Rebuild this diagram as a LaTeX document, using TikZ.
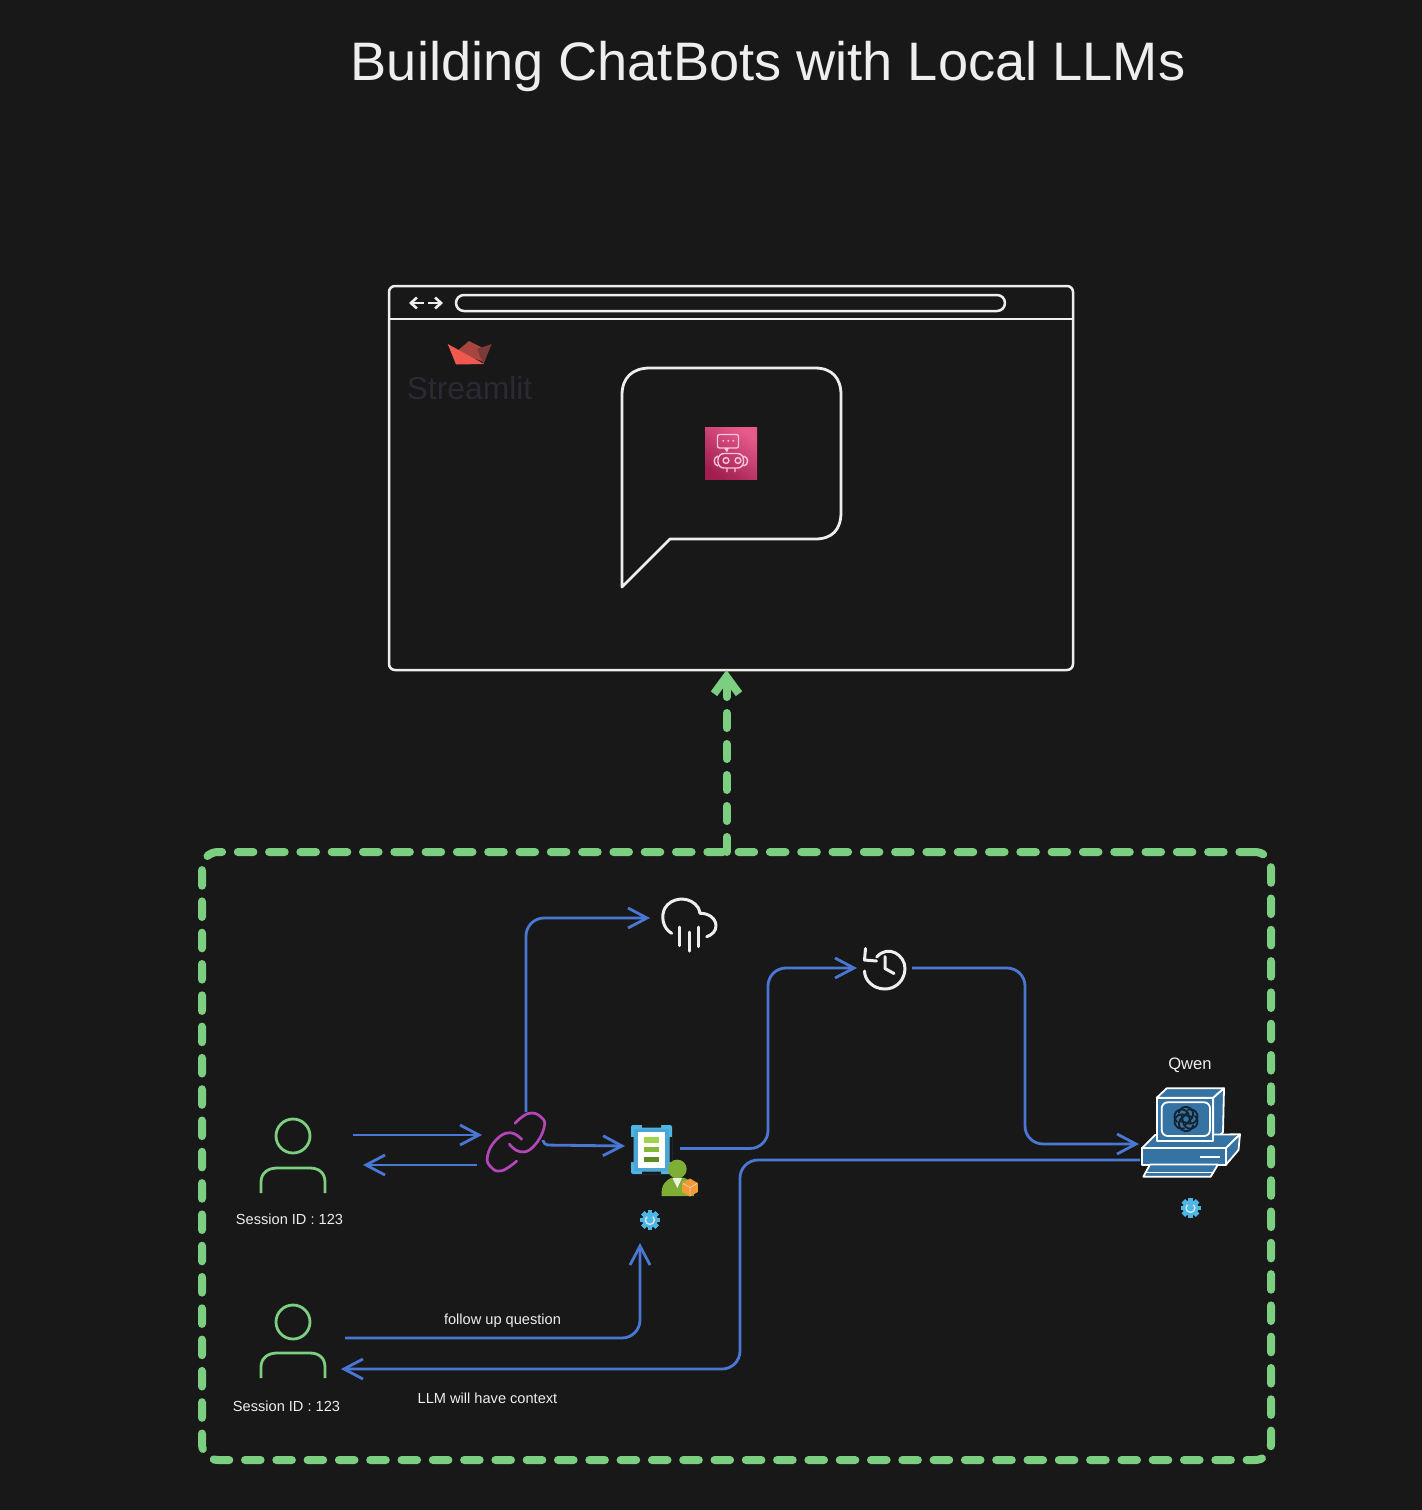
\documentclass[tikz,border=0pt]{standalone}
\usepackage{fontspec}
\setmainfont{Liberation Sans}
\usetikzlibrary{arrows.meta,shapes.geometric}
\definecolor{bg}{HTML}{181818}
\definecolor{sketch}{HTML}{EEEEEE}
\definecolor{flowblue}{HTML}{4A76D4}
\definecolor{framegreen}{HTML}{7CCF80}
\definecolor{linkpurple}{HTML}{B545B8}
\definecolor{skyb}{HTML}{4FB6E4}
\definecolor{pcblue}{HTML}{3673A5}
\definecolor{stl}{HTML}{2A2A36}
\definecolor{pinktop}{HTML}{E85A8C}
\definecolor{pinkbot}{HTML}{A11F50}
\definecolor{robotline}{HTML}{F5C6D8}
\definecolor{crownA}{HTML}{F0594E}
\definecolor{crownB}{HTML}{A8453F}
\definecolor{crownC}{HTML}{7A3B38}
\definecolor{barA}{HTML}{A0D44A}
\definecolor{barB}{HTML}{86B83A}
\definecolor{barC}{HTML}{5E8C24}
\definecolor{persongreen}{HTML}{7FAE35}
\definecolor{cubeorange}{HTML}{F09A3A}
\definecolor{docedge}{HTML}{4BA6D8}
\definecolor{logoink}{HTML}{15222E}
\tikzset{
  iconbox/.style 2 args={inner sep=0pt,outer sep=0pt,minimum width=#1*0.5pt,minimum height=#2*0.5pt},
  flow/.style={draw=flowblue,line width=1.4pt,rounded corners=9pt,-{Straight Barb[length=9.5pt,width=10pt,line width=1.4pt]}},
  sk/.style={draw=sketch,line width=1.25pt,line join=round},
  skthin/.style={draw=sketch,line width=1.5pt,line cap=round,line join=round},
  person/.style={draw=framegreen,line width=1.4pt},
  caption/.style={text=sketch,inner sep=0pt,font=\fontsize{7.3}{9}\selectfont},
  pcpart/.style={fill=pcblue,draw=white,line width=0.9pt,line join=round},
  gearpic/.pic={
    \foreach \a in {0,45,...,315}{\fill[skyb,rotate=\a] (-2.4,-10) rectangle (2.4,10);}
    \fill[skyb] (0,0) circle (7.8);
    \draw[white!70!skyb,line width=0.7pt] (-50:4.4) arc[start angle=-50,end angle=230,radius=4.4];
  }
}
\begin{document}
\begin{tikzpicture}[x=0.5pt,y=-0.5pt]
\fill[bg] (0,0) rectangle (1422,1510);
\useasboundingbox (0,0) rectangle (1422,1510);

\node[text=sketch,inner sep=0pt,font=\fontsize{27.1}{30}\selectfont] (title) at (768,66) {Building ChatBots with Local LLMs};

% browser
\node[sk,draw,rounded corners=3pt,inner sep=0pt,outer sep=0pt,minimum width=342pt,minimum height=192pt] (browser) at (731,478) {};
\draw[draw=sketch,line width=0.9pt] (browser.west |- 0,319) -- (browser.east |- 0,319);
\node[sk,draw,rounded corners=4pt,inner sep=0pt,minimum width=274.5pt,minimum height=8pt] (urlbar) at (730.5,303) {};
\draw[sketch,line width=1.3pt,-{Straight Barb[length=3pt,width=5.5pt,line width=1.3pt]}] (424,303) -- (409,303);
\draw[sketch,line width=1.3pt,-{Straight Barb[length=3pt,width=5.5pt,line width=1.3pt]}] (428,303) -- (443,303);

% streamlit
\fill[crownB] (469,341) -- (481,347) -- (484,362) -- (456,352) -- cycle;
\fill[crownC] (491.7,344) -- (483.5,364) -- (477,349) -- cycle;
\fill[crownA] (447.7,344) -- (484,364) -- (456,364.5) -- cycle;
\node[text=stl,inner sep=0pt,font=\fontsize{15.9}{18}\selectfont] (stname) at (469.5,388) {Streamlit};

% chat bubble
\draw[sk,line width=1.4pt] (622,587) -- (622,395) .. controls (622,378) and (632,368) .. (650,368) -- (815,368)
  .. controls (832,368) and (841,378) .. (841,395) -- (841,512) .. controls (841,530) and (832,539) .. (815,539)
  -- (670,539) -- cycle;

% robot icon
\node[inner sep=0pt,outer sep=0pt,minimum size=26pt,top color=pinktop,bottom color=pinkbot,shading angle=-35] (robot) at (731,453) {};
\draw[draw=robotline,line width=0.7pt,rounded corners=1pt] (717.5,434.5) rectangle (738.5,448);
\fill[robotline] (724,448) -- (727,452.5) -- (729,448) -- cycle;
\foreach \xx in {723.3,728.3,733.3}{\fill[robotline] (\xx,440.8) circle (1.1);}
\draw[draw=robotline,line width=0.7pt,rounded corners=3pt] (718,453.5) rectangle (743.5,468);
\draw[draw=robotline,line width=0.7pt] (726,460.5) circle (2.9) (738,460.5) circle (2.9);
\draw[draw=robotline,line width=0.7pt] (718,456) .. controls (713,457) and (713,465) .. (718,466)
  (743.5,456) .. controls (749,457) and (749,465) .. (743.5,466)
  (727,468) -- (727,472) (735,468) -- (735,472);

% dashed frame
\node[draw=framegreen,line width=4pt,rounded corners=8pt,dash pattern=on 7.8pt off 7.85pt,line cap=round,inner sep=0pt,outer sep=0pt,minimum width=534.5pt,minimum height=304pt] (frame) at (736.5,1156) {};
\draw[framegreen,line width=4pt,line cap=round,dash pattern=on 7.5pt off 8pt,-{Straight Barb[length=8.5pt,width=12.5pt,line width=4pt]}] ([xshift=-5pt]frame.north) -- ([xshift=-2.25pt]browser.south);

% users
\node[iconbox={94}{70}] (u1) at (306,1150) {};
\draw[person] (293,1136) circle (17);
\draw[person] (261,1193) -- (261,1182) .. controls (261,1173) and (268,1168) .. (277,1168) -- (310,1168) .. controls (319,1168) and (325,1173) .. (325,1182) -- (325,1193);
\node[caption] (s1) at (289.5,1219) {Session ID : 123};
\node[iconbox={86}{70}] (u2) at (302,1350) {};
\draw[person] (293,1322) circle (17);
\draw[person] (261,1378) -- (261,1367) .. controls (261,1358) and (268,1353) .. (277,1353) -- (310,1353) .. controls (319,1353) and (325,1358) .. (325,1367) -- (325,1378);
\node[caption] (s2) at (286.5,1406) {Session ID : 123};

% link
\node[iconbox={63}{60}] (link) at (513.5,1142) {};
\draw[linkpurple,line width=1.35pt,line cap=round] plot[smooth,tension=0.8] coordinates {(515,1123.3) (528.3,1113.5) (541,1117) (544,1128) (533.3,1146.7) (520,1151.7) (509.3,1144)};
\draw[linkpurple,line width=1.35pt,line cap=round] plot[smooth,tension=0.8] coordinates {(521.7,1139.3) (510,1132.7) (496,1140) (487.5,1156) (491,1167) (501.7,1170.7) (516.7,1161)};

% document + admin icon
\node[iconbox={55}{118}] (doc) at (652.5,1184) {};
\fill[skyb,rounded corners=1pt] (631,1125) rectangle (672,1174);
\fill[bg] (642,1125) rectangle (661,1127.5) (642,1171.5) rectangle (661,1174) (631,1137) rectangle (633.5,1162) (669.5,1137) rectangle (672,1162);
\fill[docedge] (634,1128.5) rectangle (668.5,1171);
\fill[white] (637.7,1132.3) rectangle (665,1167.7);
\fill[barA] (644,1137.3) rectangle (659.3,1142.7);
\fill[barB] (644,1147) rectangle (659.3,1152.3);
\fill[barC] (644,1156.7) rectangle (659.3,1162);
\fill[persongreen] (661.5,1196) .. controls (661,1183) and (667,1180) .. (672,1177.5) -- (683,1177.5) .. controls (692,1180) and (693,1186) .. (694,1196) -- cycle;
\fill[persongreen] (677.3,1169) circle (9.4);
\fill[white!85!persongreen] (672.5,1178) -- (682,1178) -- (677.3,1188) -- cycle;
\node[regular polygon,regular polygon sides=6,fill=cubeorange,inner sep=0pt,outer sep=0pt,minimum size=9pt,shape border rotate=30] (cube) at (690,1187.5) {};
\draw[white!55!cubeorange,line width=0.35pt] (690,1187.5) -- (690,1196) (690,1187.5) -- (683,1183.5) (690,1187.5) -- (697,1183.5);
\pic (gear1) at (650,1220) {gearpic};

% rain
\node[iconbox={67}{54}] (rain) at (683.5,925) {};
\draw[skthin] (671.7,933.3) .. controls (662,928) and (661,915) .. (665,908) .. controls (671,898) and (686,896) .. (695,904) .. controls (698,906) and (699,909) .. (700,913.3) .. controls (708,913) and (716,918) .. (716,926) .. controls (716,931) and (712,935) .. (706.7,936.7);
\draw[skthin] (679.3,927) -- (679.3,945.7) (689,932) -- (689,951) (698,927) -- (698,946.5);

% clock
\node[iconbox={55}{44}] (clock) at (884.5,968) {};
\draw[skthin] (876.7,957) .. controls (888,944) and (905,955) .. (905,968.3) .. controls (905,980) and (896,989) .. (885,989) .. controls (873,989) and (864.5,980) .. (864.5,971);
\draw[skthin] (865.5,948.5) -- (864.5,960) -- (876.5,961);
\draw[skthin] (885,956.7) -- (885,968.5) -- (894,973.5);

% computer
\node[iconbox={102}{90}] (qwen) at (1190,1133) {};
\draw[pcpart] (1156.7,1097.7) -- (1166.7,1088.3) -- (1224,1088.3) -- (1213.3,1097.7) -- cycle;
\draw[pcpart] (1213.3,1097.7) -- (1224,1088.3) -- (1223,1132.3) -- (1213.3,1141) -- cycle;
\draw[pcpart] (1141.7,1148.3) -- (1155,1135) -- (1240,1134.3) -- (1225.7,1148.3) -- cycle;
\draw[pcpart] (1225.7,1148.3) -- (1240,1134.3) -- (1238.5,1150) -- (1225.7,1165) -- cycle;
\draw[pcpart] (1141.7,1148.3) rectangle (1225.7,1165);
\draw[pcpart] (1156.7,1097.7) rectangle (1213.3,1141);
\draw[pcpart,rounded corners=3pt] (1161.7,1102.3) rectangle (1210,1136);
\draw[white,line width=1.2pt] (1200,1156.7) -- (1220,1156.7);
\draw[pcpart] (1150,1164.5) -- (1218,1164.5) -- (1210.7,1176.7) -- (1143.3,1176.7) -- cycle;
\draw[white,line width=0.7pt] (1146,1172.5) -- (1213,1172.5);
\foreach \a in {0,60,...,300}{\draw[draw=logoink,line width=0.9pt,line cap=round,rotate around={\a:(1186,1119)}] (1186,1114) ++(-170:7.2) arc[start angle=-170,end angle=35,radius=7.2] -- +(-7,7);}
\node[text=sketch,inner sep=0pt,font=\fontsize{8.3}{10}\selectfont] (qname) at (1190,1065) {Qwen};
\pic (gear2) at (1190.5,1208) {gearpic};

% labels
\node[caption] (lfollow) at (502.5,1321) {follow up question};
\node[caption] (lctx) at (487.5,1398) {LLM will have context};

% bends
\coordinate (bA) at (768,1060);
\coordinate (bB) at (1025,1060);
\coordinate (bC) at (740,1260);

% connectors
\draw[flow] ([shift={(0,-15)}]u1.east) -- ([shift={(0,-7)}]link.west);
\draw[flow] ([shift={(-5,23)}]link.west) -- ([shift={(10,15)}]u1.east);
\draw[flow] ([shift={(12.5,0)}]link.north) |- ([shift={(0,-7)}]rain.west);
\draw[flow,rounded corners=2pt] ([shift={(-2,-2)}]link.east) -- ([shift={(-1,3)}]link.east) -- ([shift={(0,-38)}]doc.west);
\draw[flow] ([shift={(0,-35.5)}]doc.east) -| (bA) |- (clock.west);
\draw[flow] (clock.east) -| (bB) |- ([shift={(0,11)}]qwen.west);
\draw[flow] ([shift={(1,27)}]qwen.west) -| (bC) |- ([shift={(-4,19)}]u2.east);
\draw[flow] ([shift={(0,-12)}]u2.east) -| ([shift={(-12.5,0)}]doc.south);
\end{tikzpicture}
\end{document}
